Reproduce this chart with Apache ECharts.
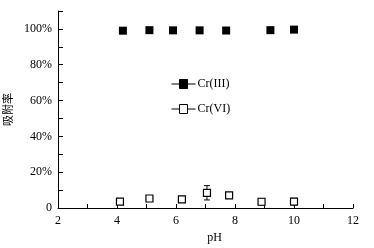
<!DOCTYPE html>
<html>
<head>
<meta charset="utf-8">
<script src="https://cdn.jsdelivr.net/npm/echarts@6/dist/echarts.min.js"></script>
<style>
  html, body { margin: 0; padding: 0; background: #fff; }
  #chart { width: 374px; height: 248px; }
</style>
</head>
<body>
<div id="chart"></div>
<script>
// 数据
const cr3PH = [4.2, 5.1, 5.9, 6.8, 7.7, 9.2, 10.0]
const cr3Rate = [99.0, 99.3, 99.2, 99.2, 99.1, 99.3, 99.6]
const cr6PH = [4.1, 5.1, 6.2, 7.05, 7.8, 8.9, 10.0]
const cr6Rate = [3.6, 5.3, 4.8, 8.5, 7.0, 3.5, 3.6]
const cr6Err = [1.5, 0.5, 1.0, 4.0, 0.5, 1.8, 1.8]

const font = "Liberation Serif"
const chart = echarts.init(document.getElementById("chart"))

// 误差线
const errData = cr6PH.map((x, i) => [x, cr6Rate[i] - cr6Err[i], cr6Rate[i] + cr6Err[i]])

const legendIcon = "path://M0,4.5L8,4.5L8,0L16,0L16,9L8,9L8,4.5M16,4.5L24,4.5"

const option = {
  animation: false,
  grid: { left: 58, right: 21, top: 11, bottom: 40, outerBoundsMode: "none", containLabel: false },
  legend: {
    orient: "vertical",
    left: 166,
    top: 73,
    itemWidth: 24,
    itemHeight: 9,
    itemGap: 13,
    textStyle: { fontFamily: font, fontSize: 12, color: "#000", padding: [0, 0, 0, -3] },
    data: [
      {
        name: "Cr(III)",
        icon: legendIcon,
        itemStyle: { color: "#000", borderColor: "#000", borderWidth: 1, opacity: 1 },
      },
      {
        name: "Cr(VI)",
        icon: legendIcon,
        itemStyle: { color: "#fff", borderColor: "#000", borderWidth: 1, opacity: 1 },
      },
    ],
  },
  xAxis: {
    type: "value",
    min: 2,
    max: 12,
    interval: 1,
    name: "pH",
    nameLocation: "middle",
    nameGap: 21,
    nameTextStyle: { fontFamily: font, fontSize: 12, color: "#000", padding: [0, 0, 0, 18] },
    axisLine: { lineStyle: { color: "#000", width: 1 } },
    axisTick: { inside: true, length: 4, lineStyle: { color: "#000" } },
    axisLabel: {
      fontFamily: font,
      fontSize: 12,
      color: "#000",
      margin: 7,
      formatter: (v) => (v % 2 === 0 ? String(v) : ""),
    },
    splitLine: { show: false },
  },
  yAxis: {
    type: "value",
    min: 0,
    max: 110,
    interval: 10,
    name: "吸附率",
    nameLocation: "middle",
    nameRotate: 90,
    nameGap: 40,
    nameTextStyle: { fontFamily: "Noto Sans CJK SC", fontSize: 11, color: "#000" },
    axisLine: { show: true, lineStyle: { color: "#000", width: 1 } },
    axisTick: { show: true, inside: true, length: 5, lineStyle: { color: "#000" } },
    axisLabel: {
      fontFamily: font,
      fontSize: 12,
      color: "#000",
      margin: 6,
      formatter: (v) => (v === 0 ? "0" : v % 20 === 0 && v <= 100 ? v + "%" : ""),
    },
    splitLine: { show: false },
  },
  series: [
    {
      name: "Cr(III)",
      type: "scatter",
      symbol: "rect",
      symbolSize: 8,
      itemStyle: { color: "#000", opacity: 1 },
      data: cr3PH.map((x, i) => [x, cr3Rate[i]]),
      z: 3,
    },
    {
      name: "Cr(VI) err",
      type: "custom",
      renderItem: (params, api) => {
        const x = api.value(0)
        const lo = api.coord([x, api.value(1)])
        const hi = api.coord([x, api.value(2)])
        const cap = 3
        const s = { stroke: "#000", lineWidth: 1 }
        return {
          type: "group",
          children: [
            { type: "line", shape: { x1: lo[0], y1: lo[1], x2: hi[0], y2: hi[1] }, style: s },
            { type: "line", shape: { x1: lo[0] - cap, y1: lo[1], x2: lo[0] + cap, y2: lo[1] }, style: s },
            { type: "line", shape: { x1: hi[0] - cap, y1: hi[1], x2: hi[0] + cap, y2: hi[1] }, style: s },
          ],
        }
      },
      data: errData,
      z: 2,
    },
    {
      name: "Cr(VI)",
      type: "scatter",
      symbol: "rect",
      symbolSize: 7,
      itemStyle: { color: "#fff", borderColor: "#000", borderWidth: 1.2, opacity: 1 },
      data: cr6PH.map((x, i) => [x, cr6Rate[i]]),
      z: 3,
    },
  ],
}

chart.setOption(option)
</script>
</body>
</html>
